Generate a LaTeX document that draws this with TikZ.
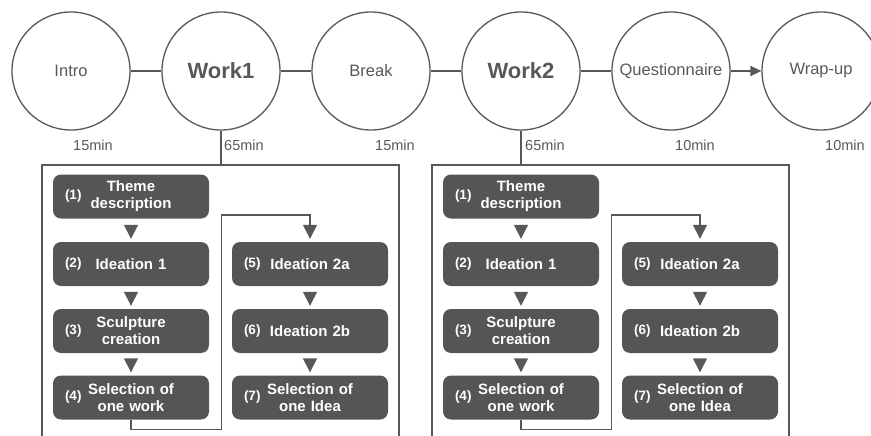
\documentclass[tikz,border=0pt]{standalone}
\usepackage{fontspec}
\setmainfont{Liberation Sans}
\usetikzlibrary{arrows.meta,calc,positioning}
\definecolor{ink}{HTML}{585858}
\definecolor{boxfill}{HTML}{555555}
\tikzset{
  phase/.style={circle,draw=ink,line width=1.3pt,minimum size=118pt,inner sep=0pt,text=ink,font=\fontsize{16.5}{18}\selectfont},
  bigphase/.style={phase,font=\fontsize{22}{24}\selectfont\bfseries},
  link/.style={draw=ink,line width=1.6pt},
  timelbl/.style={anchor=west,inner sep=0pt,text=ink,font=\fontsize{14.5}{16}\selectfont},
  stepbox/.style={rectangle,rounded corners=8pt,fill=boxfill,draw=none,minimum width=156pt,minimum height=44pt,text width=120pt,align=center,text=white,inner sep=0pt,font=\fontsize{15}{17}\selectfont\bfseries},
  numlbl/.style={anchor=west,inner sep=0pt,text=white,font=\fontsize{13.5}{15}\selectfont\bfseries},
  flowtip/.style={draw=ink,line width=1.5pt,-{Triangle[width=14pt,length=14pt]}},
  frameline/.style={draw=ink,line width=1.5pt},
}
\begin{document}
\begin{tikzpicture}[x=1pt,y=-1pt]
\useasboundingbox (0,0) rectangle (871,436);
% phases
\node[phase] (intro) at (71,71) {Intro};
\node[bigphase] (w1) at (221,71) {Work1};
\node[phase] (brk) at (371,71) {Break};
\node[bigphase] (w2) at (521,71) {Work2};
\node[phase] (quest) at (671,71) {Questionnaire};
\node[phase] (wrap) at (821,71) {Wrap-up};
\draw[link] (intro) -- (w1);
\draw[link] (w1) -- (brk);
\draw[link] (brk) -- (w2);
\draw[link] (w2) -- (quest);
\draw[link,-{Triangle[width=10pt,length=11pt]}] (quest) -- (wrap);
% times
\node[timelbl] (t1) at ($(intro.center)+(2,74)$) {15min};
\node[timelbl] (t2) at ($(w1.center)+(3,74)$) {65min};
\node[timelbl] (t3) at ($(brk.center)+(4,74)$) {15min};
\node[timelbl] (t4) at ($(w2.center)+(4,74)$) {65min};
\node[timelbl] (t5) at ($(quest.center)+(4,74)$) {10min};
\node[timelbl] (t6) at ($(wrap.center)+(4,74)$) {10min};
% two work panels
\foreach \p/\ox/\w in {A/0/w1,B/390/w2}{
  \begin{scope}[xshift=\ox]
    \node[minimum width=357pt,minimum height=281pt,inner sep=0pt,draw=none] (frame\p) at (220.5,305.5) {};
    \draw[frameline] (frame\p.south west) -- (frame\p.north west) -- (frame\p.north east) -- (frame\p.south east);
    \draw[frameline] (\w) -- (\w |- frame\p.north);
    \node[stepbox] (\p1) at (131,196.5) {Theme\\description};
    \node[stepbox] (\p2) at (131,264) {Ideation 1};
    \node[stepbox] (\p3) at (131,331) {Sculpture\\creation};
    \node[stepbox] (\p4) at (131,397.5) {Selection of\\one work};
    \node[stepbox] (\p5) at (310,264) {Ideation 2a};
    \node[stepbox] (\p6) at (310,331) {Ideation 2b};
    \node[stepbox] (\p7) at (310,397.5) {Selection of\\one Idea};
    \foreach \i in {1,...,7}{
      \node[numlbl] (\p n\i) at ([xshift=12pt]\p\i.west) {(\i)};
    }
    \draw[flowtip,shorten <=6pt,shorten >=3pt] (\p1) -- (\p2);
    \draw[flowtip,shorten <=6pt,shorten >=3pt] (\p2) -- (\p3);
    \draw[flowtip,shorten <=6pt,shorten >=3pt] (\p3) -- (\p4);
    \draw[flowtip,shorten <=6pt,shorten >=3pt] (\p5) -- (\p6);
    \draw[flowtip,shorten <=6pt,shorten >=3pt] (\p6) -- (\p7);
    \draw[flowtip,shorten >=3pt] (\p4.south) -- ++(0,10) -| ($(\p4.east)!0.5!(\p5.west)+(1,0)$) |- ([yshift=27pt]\p5.north) -- (\p5.north);
  \end{scope}
}
\end{tikzpicture}
\end{document}
